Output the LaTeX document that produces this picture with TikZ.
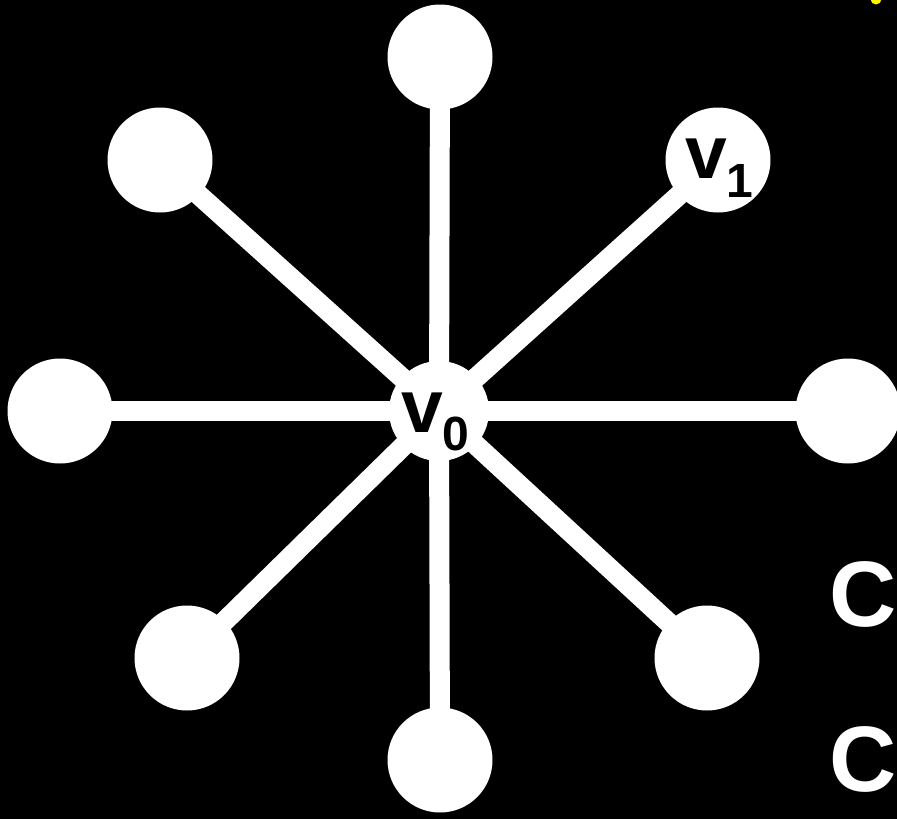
\documentclass[tikz,border=0pt]{standalone}
\usepackage{fontspec}
\setmainfont{Liberation Sans}
\begin{document}
\begin{tikzpicture}[x=1pt,y=-1pt,
  vert/.style={circle,fill=white,draw=none,minimum size=105pt,inner sep=0pt},
  hub/.style={circle,fill=white,draw=none,minimum size=100pt,inner sep=0pt},
  spoke/.style={white,line width=20pt},
  lbl/.style={text=black,inner sep=0pt,font=\fontsize{75}{75}\selectfont\bfseries},
  sidetxt/.style={text=white,inner sep=0pt,font=\fontsize{93}{93}\selectfont\bfseries}]
  % black background fixes the page size
  \fill[black] (0,0) rectangle (897,819);
  \useasboundingbox (0,0) rectangle (897,819);
  % small yellow mark at the top edge
  \fill[yellow] (876,-1) circle (5.5);
  % hub and the eight outer vertices
  \coordinate (c0) at (439,411);
  \coordinate (cN) at (440,57);
  \coordinate (cNW) at (160,160);
  \coordinate (cNE) at (718,160);
  \coordinate (cW) at (60,411);
  \coordinate (cE) at (848,411);
  \coordinate (cSW) at (187,658);
  \coordinate (cSE) at (707,658);
  \coordinate (cS) at (440,760);
  % spokes
  \foreach \p in {cN,cNW,cNE,cW,cE,cSW,cSE,cS}
    \draw[spoke] (c0) -- (\p);
  % vertices
  \node[hub] (v0) at (c0) {};
  \node[vert] (n) at (cN) {};
  \node[vert] (nw) at (cNW) {};
  \node[vert] (v1) at (cNE) {};
  \node[vert] (w) at (cW) {};
  \node[vert] (e) at (cE) {};
  \node[vert] (sw) at (cSW) {};
  \node[vert] (se) at (cSE) {};
  \node[vert] (s) at (cS) {};
  % vertex labels
  \node[lbl,anchor=base west] (v0lbl) at (401,432)
    {v\raisebox{-18pt}{\fontsize{48}{48}\selectfont 0}};
  \node[lbl,anchor=base west] (v1lbl) at (685,178)
    {v\raisebox{-19pt}{\fontsize{48}{48}\selectfont 1}};
  % letters on the right
  \node[sidetxt] (c1) at (863,594) {C};
  \node[sidetxt] (c2) at (863,759) {C};
\end{tikzpicture}
\end{document}
